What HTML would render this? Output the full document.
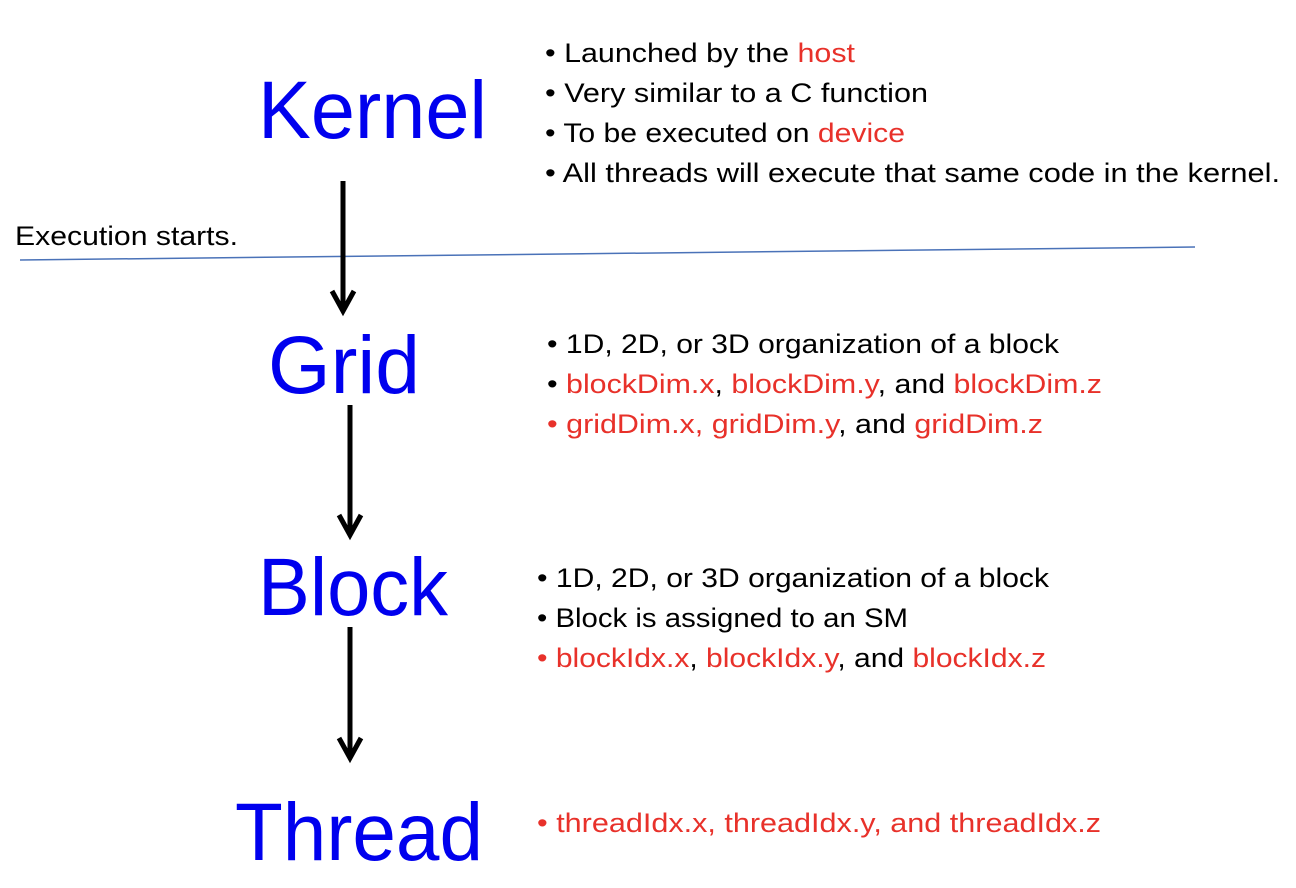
<!DOCTYPE html>
<html><head><meta charset="utf-8"><style>
html,body{margin:0;padding:0;background:#fff;}
svg{display:block;}
text{font-family:"Liberation Sans",sans-serif;}
.big{fill:#0000ee;font-size:82px;}
.t{font-size:27px;fill:#000;}
.r{fill:#e8312a;}
</style></head><body>
<svg width="1296" height="888" viewBox="0 0 1296 888" xmlns="http://www.w3.org/2000/svg">
<text class="big" x="258" y="138" textLength="229" lengthAdjust="spacingAndGlyphs">Kernel</text>
<text class="big" x="268" y="393" textLength="152" lengthAdjust="spacingAndGlyphs">Grid</text>
<text class="big" x="258" y="615" textLength="190" lengthAdjust="spacingAndGlyphs">Block</text>
<text class="big" x="235" y="860" textLength="248" lengthAdjust="spacingAndGlyphs">Thread</text>

<text class="t" x="545" y="62" textLength="310" lengthAdjust="spacingAndGlyphs">• Launched by the <tspan class="r">host</tspan></text>
<text class="t" x="545" y="102" textLength="383" lengthAdjust="spacingAndGlyphs">• Very similar to a C function</text>
<text class="t" x="545" y="142" textLength="360" lengthAdjust="spacingAndGlyphs">• To be executed on <tspan class="r">device</tspan></text>
<text class="t" x="545" y="182" textLength="735" lengthAdjust="spacingAndGlyphs">• All threads will execute that same code in the kernel.</text>

<text class="t" x="15" y="245" textLength="223" lengthAdjust="spacingAndGlyphs">Execution starts.</text>
<line x1="20" y1="260" x2="1195" y2="247" stroke="#4a72b8" stroke-width="1.5"/>

<text class="t" x="547" y="353" textLength="512" lengthAdjust="spacingAndGlyphs">• 1D, 2D, or 3D organization of a block</text>
<text class="t" x="547" y="393" textLength="555" lengthAdjust="spacingAndGlyphs">• <tspan class="r">blockDim.x</tspan>, <tspan class="r">blockDim.y</tspan>, and <tspan class="r">blockDim.z</tspan></text>
<text class="t" x="547" y="433" textLength="496" lengthAdjust="spacingAndGlyphs"><tspan class="r">• gridDim.x, gridDim.y</tspan>, and <tspan class="r">gridDim.z</tspan></text>

<text class="t" x="537" y="587" textLength="512" lengthAdjust="spacingAndGlyphs">• 1D, 2D, or 3D organization of a block</text>
<text class="t" x="537" y="627" textLength="371" lengthAdjust="spacingAndGlyphs">• Block is assigned to an SM</text>
<text class="t" x="537" y="667" textLength="509" lengthAdjust="spacingAndGlyphs"><tspan class="r">• blockIdx.x</tspan>, <tspan class="r">blockIdx.y</tspan>, and <tspan class="r">blockIdx.z</tspan></text>

<text class="t r" x="537" y="832" textLength="564" lengthAdjust="spacingAndGlyphs">• threadIdx.x, threadIdx.y, and threadIdx.z</text>

<g stroke="#000" stroke-width="5" fill="none" stroke-linecap="butt">
<line x1="343" y1="181" x2="343" y2="311"/>
<polyline points="332,291 343,311 354,291"/>
<line x1="350" y1="405" x2="350" y2="535"/>
<polyline points="339,515 350,535 361,515"/>
<line x1="350" y1="627" x2="350" y2="758"/>
<polyline points="339,738 350,758 361,738"/>
</g>
</svg>
</body></html>
